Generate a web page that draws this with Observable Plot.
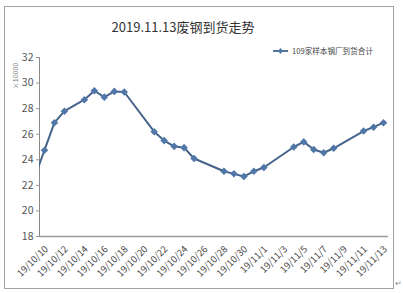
<!DOCTYPE html>
<html>
<head>
<meta charset="utf-8">
<script src="https://cdn.jsdelivr.net/npm/d3@7"></script>
<script src="https://cdn.jsdelivr.net/npm/@observablehq/plot@0.6"></script>
<style>
  body { margin: 0; background: #fff; font-family: "Noto Sans CJK SC", "Noto Sans", sans-serif; }
  #wrap { position: relative; width: 403px; height: 293px; overflow: hidden; background: #fff; }
  #border { position: absolute; left: 4px; top: 6px; width: 388px; height: 281px; border: 1.5px solid #a3a3a3; }
  #title { position: absolute; left: 0; width: 366px; top: 17px; text-align: center; font-size: 13px; color: #333; white-space: nowrap; }
  #legend { position: absolute; left: 272px; top: 45px; font-size: 7.6px; color: #444; white-space: nowrap; display: flex; align-items: center; }
  #ylab { position: absolute; left: 15px; top: 76px; transform: translate(-50%, -50%) rotate(-90deg); font-size: 7px; color: #777; white-space: nowrap; }
  #para { position: absolute; left: 395px; top: 277px; font-size: 8px; color: #888; }
  #chart { position: absolute; left: 0; top: 0; }
</style>
</head>
<body>
<div id="wrap">
  <div id="border"></div>
  <div id="chart"></div>
  <div id="title">2019.11.13废钢到货走势</div>
  <div id="legend"><svg width="17" height="10"><line x1="1" y1="5" x2="16" y2="5" stroke="#46648c" stroke-width="1.8"/><path d="M8.5,2 L11,5 L8.5,8 L6,5 Z" fill="#5077a8"/></svg><span style="margin-left:3px">109家样本钢厂到货合计</span></div>
  <div id="ylab">×10000</div>
  <div id="para">↵</div>
</div>
<script>
const dates = ["2019-10-09","2019-10-10","2019-10-11","2019-10-12","2019-10-14","2019-10-15","2019-10-16","2019-10-17","2019-10-18",
  "2019-10-21","2019-10-22","2019-10-23","2019-10-24","2019-10-25","2019-10-28","2019-10-29","2019-10-30","2019-10-31",
  "2019-11-01","2019-11-04","2019-11-05","2019-11-06","2019-11-07","2019-11-08","2019-11-11","2019-11-12","2019-11-13"];
const values = [22.6,24.75,26.9,27.8,28.7,29.4,28.9,29.35,29.3,
  26.2,25.5,25.05,24.95,24.1,23.1,22.9,22.7,23.1,
  23.4,25.0,25.4,24.8,24.55,24.9,26.25,26.55,26.9];
const yTicks = [18,20,22,24,26,28,30,32];
const xTickLabels = ["19/10/10","19/10/12","19/10/14","19/10/16","19/10/18","19/10/20","19/10/22","19/10/24","19/10/26",
  "19/10/28","19/10/30","19/11/1","19/11/3","19/11/5","19/11/7","19/11/9","19/11/11","19/11/13"];

const parse = s => new Date(s + "T00:00:00Z");
const data = dates.map((d, i) => ({date: parse(d), value: values[i]}));
const tickData = xTickLabels.map(l => {
  const [yy, m, d] = l.split("/").map(Number);
  return {date: new Date(Date.UTC(2000 + yy, m - 1, d)), label: l};
});
const day = 864e5;
const x0 = new Date(Date.UTC(2019, 9, 10) - day / 2);
const x1 = new Date(Date.UTC(2019, 10, 13) + day / 2);

const chart = Plot.plot({
  width: 403,
  height: 293,
  marginLeft: 39,
  marginRight: 15,
  marginTop: 57,
  marginBottom: 57,
  style: {fontFamily: "'Noto Sans CJK SC', 'Noto Sans', sans-serif", background: "transparent", overflow: "visible"},
  x: {type: "utc", domain: [x0, x1], axis: null},
  y: {domain: [18, 32], axis: null},
  marks: [
    Plot.ruleX([x0], {y1: 18, y2: 32, stroke: "#8a8a8a", strokeWidth: 1}),
    Plot.axisY({ticks: yTicks, label: null, tickSize: 3, tickPadding: 3, fontSize: 10.5, color: "#555", stroke: "#999"}),
    Plot.ruleY([18], {x1: x0, x2: x1, stroke: "#9a9a9a", strokeWidth: 1.6}),
    Plot.text(tickData, {x: "date", frameAnchor: "bottom", text: "label", rotate: -45, textAnchor: "end", lineAnchor: "middle", dx: 2, dy: 11, fontSize: 9.5, fill: "#444"}),
    Plot.line(data, {x: "date", y: "value", stroke: "#46648c", strokeWidth: 2, clip: true}),
    Plot.dot(data, {x: "date", y: "value", symbol: "diamond2", r: 3.4, fill: "#5077a8", stroke: "none", clip: true})
  ]
});
document.getElementById("chart").appendChild(chart);
</script>
</body>
</html>
